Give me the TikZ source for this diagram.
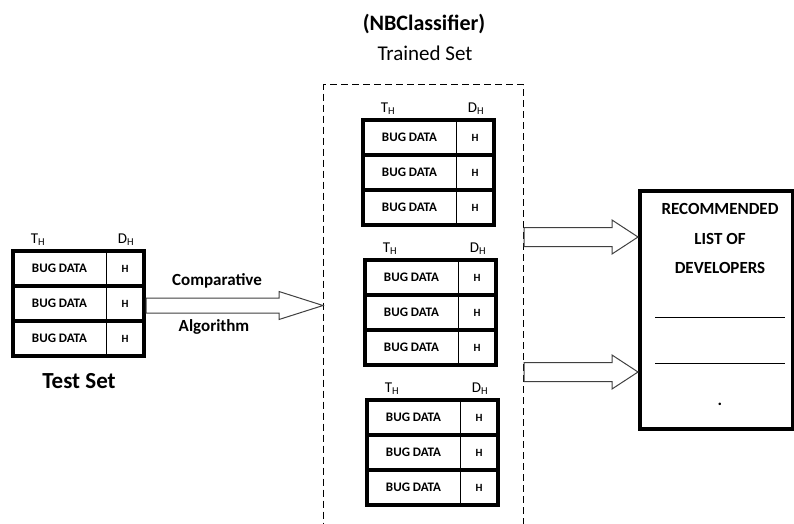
\documentclass[tikz,border=0pt]{standalone}
\usepackage{fontspec}
\setmainfont{Carlito}
\usetikzlibrary{calc, positioning}

% one table of three bug rows, top left corner at (#2,#3)
\newcommand{\bugtable}[3]{%
  \begin{scope}[shift={(#2,#3)}]
    \draw (93,0) -- (93,105);
    \foreach \r in {0,1,2} {
      \node[cell] (#1-d\r) at (46.5,17.5+35*\r) {BUG DATA};
      \node[cell, font=\bfseries\fontsize{11}{12}\selectfont] (#1-h\r) at (112,17.5+35*\r) {H};
    }
    \draw[fat] (0,35) -- (131,35) (0,70) -- (131,70);
    \draw[fat] (0,0) rectangle (131,105);
    \node[hdr] (#1-t) at (25,-11) {T\textsubscript{H}};
    \node[hdr] (#1-dh) at (113,-11) {D\textsubscript{H}};
    \coordinate (#1-e) at (131,52.5);
  \end{scope}}

% hollow block arrow from #1 to #2 (shaft half, head half, head length)
\newcommand{\hollowarrow}[5]{%
  \draw[bigarrow] ($(#1)+(0,-#3)$) -- ($(#2)+(-#5,-#3)$) -- ($(#2)+(-#5,-#4)$)
    -- (#2) -- ($(#2)+(-#5,#4)$) -- ($(#2)+(-#5,#3)$) -- ($(#1)+(0,#3)$) -- cycle;}

\begin{document}
\begin{tikzpicture}[x=1pt,y=-1pt]
  \tikzstyle{cell}=[font=\bfseries\fontsize{13}{14}\selectfont, inner sep=0]
  \tikzstyle{hdr}=[font=\fontsize{15}{16}\selectfont, inner sep=0]
  \tikzstyle{fat}=[line width=4pt]
  \tikzstyle{bigarrow}=[draw=black!75, fill=white, line width=1pt, line join=miter]
  \tikzstyle{lbl}=[font=\bfseries\fontsize{17}{18}\selectfont, inner sep=0]
  \useasboundingbox (0,0) rectangle (794,523);

  \node[font=\bfseries\fontsize{22}{24}\selectfont] (title) at (424,24) {(NBClassifier)};
  \node[font=\fontsize{21}{23}\selectfont] (trainedlbl) at (425,53) {Trained Set};

  \node[draw, dashed, dash pattern=on 7pt off 4pt, line width=1.2pt, anchor=north west,
    minimum width=200pt, minimum height=460pt, inner sep=0] (trained) at (323,84) {};

  \bugtable{test}{13}{251}
  \bugtable{tr1}{363}{120}
  \bugtable{tr2}{365}{260}
  \bugtable{tr3}{367}{400}
  \node[font=\bfseries\fontsize{23}{25}\selectfont] (testlbl) at (79,381) {Test Set};

  \node[lbl] (cmp) at (217,281) {Comparative};
  \node[lbl] (alg) at (214,327) {Algorithm};
  \coordinate (cmpin) at ($(test-e)+(2,2)$);
  \coordinate (cmpout) at (trained.west |- cmpin);
  \hollowarrow{cmpin}{cmpout}{7.5}{14}{44}

  \node[draw, line width=4pt, anchor=north west, minimum width=153pt,
    minimum height=238pt, inner sep=0] (rec) at (638,189) {};
  \node[lbl] (rec1) at (720,209) {RECOMMENDED};
  \node[lbl] (rec2) at (720,239) {LIST OF};
  \node[lbl] (rec3) at (720,268) {DEVELOPERS};
  \draw (655,317) -- (785,317);
  \draw (655,363) -- (785,363);
  \node[lbl] (recdot) at (720,404) {.};

  \coordinate (out1) at (trained.east |- 0,237);
  \coordinate (out2) at (trained.east |- 0,372);
  \hollowarrow{out1}{rec.west |- out1}{9.5}{17}{26}
  \hollowarrow{out2}{rec.west |- out2}{9.5}{17}{26}
\end{tikzpicture}
\end{document}
